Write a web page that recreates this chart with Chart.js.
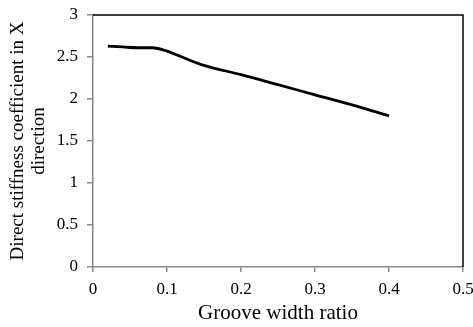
<!DOCTYPE html>
<html>
<head>
<meta charset="utf-8">
<script src="https://cdn.jsdelivr.net/npm/chart.js@4"></script>
<style>
  html, body { margin: 0; padding: 0; background: #fff; }
  #wrap { width: 473px; height: 327px; }
</style>
</head>
<body>
<div id="wrap"><canvas id="chart" width="473" height="327"></canvas></div>
<script>
// groove width ratio vs direct stiffness coefficient (X)
const grooveRatio = [0.02, 0.04, 0.06, 0.08, 0.10, 0.12, 0.15, 0.20, 0.25, 0.30, 0.35, 0.40];
const stiffnessX = [2.63, 2.62, 2.61, 2.61, 2.57, 2.50, 2.40, 2.29, 2.17, 2.05, 1.93, 1.80];
const xTicks = [0, 0.1, 0.2, 0.3, 0.4, 0.5];
const yTicks = [0, 0.5, 1, 1.5, 2, 2.5, 3];

const FONT = 'Liberation Serif, "Times New Roman", serif';
const AXIS_GRAY = '#868686';

// top and right frame are black in the original
const frame = {
    id: 'frame',
    afterDraw(chart) {
        const { ctx, chartArea: a } = chart;
        ctx.save();
        ctx.strokeStyle = '#000';
        ctx.lineWidth = 1.5;
        ctx.beginPath();
        ctx.moveTo(a.left, a.top);
        ctx.lineTo(a.right, a.top);
        ctx.lineTo(a.right, a.bottom);
        ctx.stroke();
        ctx.restore();
    }
};

new Chart(document.getElementById('chart'), {
    type: 'line',
    data: {
        datasets: [{
            data: grooveRatio.map((x, i) => ({ x: x, y: stiffnessX[i] })),
            borderColor: '#000',
            borderWidth: 2.8,
            pointRadius: 0,
            fill: false,
            cubicInterpolationMode: 'monotone'
        }]
    },
    options: {
        responsive: false,
        animation: false,
        layout: { padding: { top: 15, right: 10, left: 0, bottom: 0 } },
        plugins: { legend: { display: false }, tooltip: { enabled: false } },
        scales: {
            x: {
                type: 'linear',
                min: 0, max: 0.5,
                afterBuildTicks: s => { s.ticks = xTicks.map(v => ({ value: v })); },
                afterFit: s => { s.height = 60; s.paddingLeft = 0; s.paddingRight = 0; },
                border: { color: AXIS_GRAY, width: 1.5 },
                grid: { drawOnChartArea: false, color: AXIS_GRAY, tickLength: 5, lineWidth: 1.5 },
                ticks: {
                    color: '#000', padding: 7, maxRotation: 0,
                    font: { family: FONT, size: 17 },
                    callback: v => String(v)
                },
                title: {
                    display: true, text: 'Groove width ratio', color: '#000',
                    font: { family: FONT, size: 21 }, padding: { top: 0, bottom: 1 }
                }
            },
            y: {
                min: 0, max: 3,
                afterBuildTicks: s => { s.ticks = yTicks.map(v => ({ value: v })); },
                afterFit: s => { s.width = 93; s.paddingTop = 0; s.paddingBottom = 0; },
                border: { color: AXIS_GRAY, width: 1.5 },
                grid: { drawOnChartArea: false, color: AXIS_GRAY, tickLength: 6, lineWidth: 1.5 },
                ticks: {
                    color: '#000', padding: 9,
                    font: { family: FONT, size: 17 },
                    callback: v => String(v)
                },
                title: {
                    display: true,
                    text: ['Direct stiffness coefficient in X', 'direction'],
                    color: '#000',
                    font: { family: FONT, size: 19, lineHeight: 1.1 },
                    padding: { top: 8, bottom: 0 }
                }
            }
        }
    },
    plugins: [frame]
});
</script>
</body>
</html>
